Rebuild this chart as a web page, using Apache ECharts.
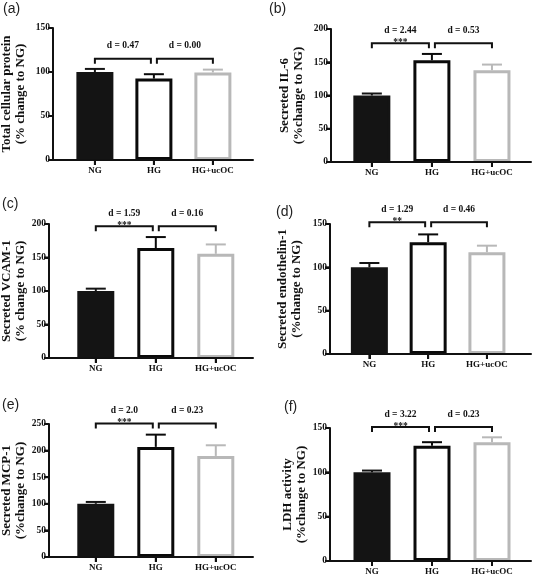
<!DOCTYPE html>
<html>
<head>
<meta charset="utf-8">
<script src="https://cdn.jsdelivr.net/npm/echarts@6/dist/echarts.min.js"></script>
<style>html,body{margin:0;padding:0;background:#fff}#c{width:533px;height:581px}</style>
</head>
<body>
<div id="c"></div>
<script>
// ---- data ----
const categories = ['NG', 'HG', 'HG+ucOC'];
const panelLabels = ['(a)', '(b)', '(c)', '(d)', '(e)', '(f)'];
const yTitles = [
  'Total cellular protein\n(% change to NG)',
  'Secreted IL-6\n(%change to NG)',
  'Secreted VCAM-1\n(% change to NG)',
  'Secreted endothelin-1\n(%change to NG)',
  'Secreted MCP-1\n(%change to NG)',
  'LDH activity\n(%change to NG)'
];
const yMax = [150, 200, 200, 150, 250, 150];
const yInterval = 50;
const meanA = [100, 92.5, 99.5];   const semA = [3.5, 5, 3.2];
const meanB = [100, 153, 138];     const semB = [3, 9.5, 8.5];
const meanC = [100, 164, 155.5];   const semC = [3.5, 16.5, 14];
const meanD = [100, 129, 117.5];   const semD = [5, 9, 7.5];
const meanE = [100, 207, 190];     const semE = [3.5, 23, 20];
const meanF = [100, 130, 134];     const semF = [2, 4, 5.5];
const means = [meanA, meanB, meanC, meanD, meanE, meanF];
const sems = [semA, semB, semC, semD, semE, semF];
const bracketY = [115, 178.5, 196.5, 152, 251, 151];
const effectLabels = [
  ['d = 0.47', 'd = 0.00'], ['d = 2.44', 'd = 0.53'], ['d = 1.59', 'd = 0.16'],
  ['d = 1.29', 'd = 0.46'], ['d = 2.0', 'd = 0.23'], ['d = 3.22', 'd = 0.23']
];
const starLabels = [['', ''], ['***', ''], ['***', ''], ['**', ''], ['***', ''], ['***', '']];

// ---- layout / style ----
const grids = [
  {left: 53, top: 28, width: 200, height: 132},
  {left: 331, top: 29, width: 200, height: 133},
  {left: 49, top: 224, width: 204, height: 134},
  {left: 330, top: 224, width: 201, height: 130},
  {left: 49, top: 424, width: 204, height: 133},
  {left: 330, top: 428, width: 201, height: 133}
];
// category k sits at x = k + 1 on a value axis
const xRanges = [[0.29, 3.68], [0.32, 3.65], [0.22, 3.62], [0.33, 3.75], [0.22, 3.62], [0.30, 3.65]];
const catPos = [1, 2, 3];
const nameGaps = [25, 25, 19.5, 26, 18, 19];
const labelPos = [[3, 2], [269, 2], [2, 197], [276, 205], [2, 398], [284, 400]];
const fills = ['#141414', '#ffffff', '#ffffff'];
const strokes = ['#141414', '#0a0a0a', '#b8b8b8'];
const axisColor = '#111';
const serif = '"Liberation Serif", "Times New Roman", serif';

const option = {
  animation: false,
  backgroundColor: '#fff',
  grid: [], xAxis: [], yAxis: [], series: [], graphic: []
};

for (let i = 0; i < 6; i++) {
  option.grid.push(Object.assign({containLabel: false, outerBoundsMode: 'none'}, grids[i]));
  option.xAxis.push({
    type: 'value', gridIndex: i, min: xRanges[i][0], max: xRanges[i][1],
    axisLine: {show: true, lineStyle: {color: axisColor, width: 2}},
    axisTick: {show: true, customValues: catPos, length: 5, lineStyle: {color: axisColor, width: 2}},
    axisLabel: {show: true, customValues: catPos, formatter: v => categories[Math.round(v) - 1],
      fontFamily: serif, fontWeight: 'bold', fontSize: 9, color: '#111', margin: 6},
    splitLine: {show: false}
  });
  option.yAxis.push({
    type: 'value', gridIndex: i, min: 0, max: yMax[i], interval: yInterval,
    name: yTitles[i], nameLocation: 'middle', nameRotate: 90, nameGap: nameGaps[i],
    nameTextStyle: {fontFamily: serif, fontWeight: 'bold', fontSize: 13, color: '#111', lineHeight: 14, align: 'center'},
    axisLine: {show: true, lineStyle: {color: axisColor, width: 2}},
    axisTick: {show: true, length: 5, lineStyle: {color: axisColor, width: 2}},
    axisLabel: {fontFamily: serif, fontWeight: 'bold', fontSize: 9.5, color: '#111', margin: 3},
    splitLine: {show: false}
  });
  option.series.push({
    type: 'bar', xAxisIndex: i, yAxisIndex: i, barWidth: 37, z: 3,
    data: means[i].map((m, k) => ({
      value: [catPos[k], m],
      itemStyle: {color: fills[k], borderColor: strokes[k], borderWidth: 3}
    }))
  });
  // error bars
  option.series.push({
    type: 'custom', xAxisIndex: i, yAxisIndex: i, z: 4, clip: false,
    data: means[i].map((m, k) => [catPos[k], m, sems[i][k], k]),
    renderItem: function (params, api) {
      const x = api.value(0), m = api.value(1), s = api.value(2), k = api.value(3);
      const p0 = api.coord([x, m]);
      const p1 = api.coord([x, m + s]);
      const c = strokes[k];
      return {type: 'group', children: [
        {type: 'line', shape: {x1: p0[0], y1: p0[1], x2: p1[0], y2: p1[1]}, style: {stroke: c, lineWidth: 2}},
        {type: 'line', shape: {x1: p1[0] - 10, y1: p1[1], x2: p1[0] + 10, y2: p1[1]}, style: {stroke: c, lineWidth: 2}}
      ]};
    }
  });
  const pi = i;
  // significance brackets
  option.series.push({
    type: 'custom', xAxisIndex: i, yAxisIndex: i, z: 5, clip: false,
    data: [[catPos[0], catPos[1], bracketY[i]], [catPos[1], catPos[2], bracketY[i]]],
    renderItem: function (params, api) {
      const x1 = api.value(0), x2 = api.value(1), y = api.value(2);
      const a = api.coord([x1, y]);
      const b = api.coord([x2, y]);
      const ax = a[0] + (x1 === catPos[1] ? 3 : 0);
      const bx = b[0] - (x2 === catPos[1] ? 3 : 0);
      const yy = a[1];
      const mid = (ax + bx) / 2;
      const j = params.dataIndex;
      return {type: 'group', children: [
        {type: 'polyline', shape: {points: [[ax, yy + 5], [ax, yy], [bx, yy], [bx, yy + 5]]},
          style: {stroke: '#111', lineWidth: 2, fill: null}},
        {type: 'text', x: mid, y: yy - 13, style: {text: effectLabels[pi][j], x: 0, y: 0,
          align: 'center', verticalAlign: 'middle', fill: '#111',
          font: 'bold 9.5px ' + serif}},
        {type: 'text', x: mid, y: yy + 4, style: {text: starLabels[pi][j], x: 0, y: 0,
          align: 'center', verticalAlign: 'bottom', fill: '#111',
          font: 'bold 9.5px ' + serif}}
      ]};
    }
  });
  // axis lines and ticks, traced through the same scales (same spot as the native axis)
  option.series.push({
    type: 'custom', xAxisIndex: i, yAxisIndex: i, z: 6, clip: false, silent: true,
    data: [[xRanges[i][0], xRanges[i][1], yMax[i]]],
    renderItem: function (params, api) {
      const x0 = api.value(0), x1 = api.value(1), ym = api.value(2);
      const o = api.coord([x0, 0]);
      const t = api.coord([x0, ym]);
      const r = api.coord([x1, 0]);
      const st = {stroke: axisColor, lineWidth: 2};
      const ch = [
        {type: 'line', shape: {x1: o[0], y1: o[1] + 1, x2: t[0], y2: t[1]}, style: st},
        {type: 'line', shape: {x1: o[0] - 1, y1: o[1], x2: r[0], y2: r[1]}, style: st}
      ];
      for (let v = 0; v <= ym + 1e-9; v += yInterval) {
        const p = api.coord([x0, v]);
        ch.push({type: 'line', shape: {x1: p[0] - 5, y1: p[1], x2: p[0], y2: p[1]}, style: st});
      }
      catPos.forEach(c => {
        const p = api.coord([c, 0]);
        ch.push({type: 'line', shape: {x1: p[0], y1: p[1], x2: p[0], y2: p[1] + 5}, style: st});
      });
      return {type: 'group', children: ch};
    }
  });
  option.graphic.push({
    type: 'text', left: labelPos[i][0], top: labelPos[i][1],
    style: {text: panelLabels[i], fill: '#222', font: '14px "Liberation Sans", Arial, sans-serif'}
  });
}

const chart = echarts.init(document.getElementById('c'), null, {renderer: 'canvas'});
chart.setOption(option);
</script>
</body>
</html>
